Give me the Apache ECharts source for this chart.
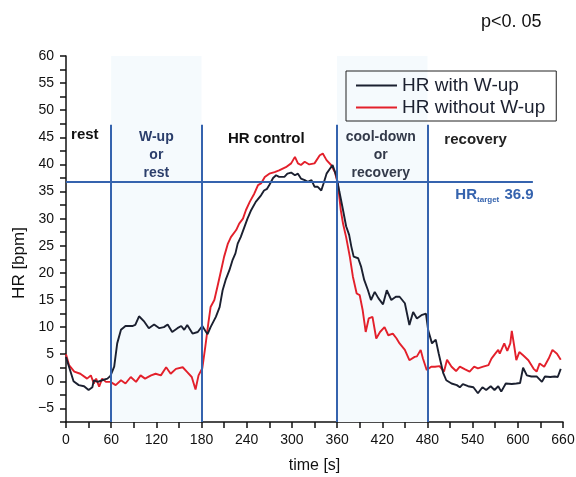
<!DOCTYPE html>
<html>
<head>
<meta charset="utf-8">
<title>HR with / without warm-up</title>
<script src="https://cdn.jsdelivr.net/npm/echarts@6/dist/echarts.min.js"></script>
<style>
  html, body { margin: 0; padding: 0; background: #fff; }
  #chart { width: 576px; height: 477px; }
</style>
</head>
<body>
<div id="chart"></div>
<script>
// heart rate traces, [time s, HR bpm]
const hrWithWup = [
  [0,4.5],[4,2.7],[10,0],[17,-0.7],[24,-0.9],[30,-1.6],[35,-1.1],[37,0.2],[42,-0.1],[48,0.2],
  [55,0.5],[59,1],[64,2.7],[68,7],[73,9.5],[79,10.2],[88,10.2],[92,10.4],[97,12],[104,11],
  [110,9.8],[117,10.5],[124,9.8],[130,10],[135,10.5],[141,9.1],[148,9.8],[153,10.2],[157,9.5],[161,10.4],
  [168,8.8],[175,9.1],[181,10.2],[186,9.1],[188,8.7],[192,10],[199,11.9],[204,13.7],[208,16.8],[212,18.7],
  [217,20.5],[221,22.3],[225,23.6],[228,25.4],[232,26.6],[237,28.5],[241,30],[246,31.6],[252,33.1],[259,34.3],
  [263,35.2],[267,35.5],[270,36.2],[275,37.5],[279,38],[283,37.7],[290,37.7],[294,38.3],[299,38.5],[304,38],
  [308,38.3],[312,37.4],[317,37.1],[321,36.8],[326,37.1],[330,35.9],[334,35.9],[339,35.2],[342,36.5],[346,38.3],
  [350,39.1],[354,39.9],[359,37.9],[363,35],[368,31.5],[372,28.6],[376,27],[379,24.8],[382,23],[388,22.7],
  [392,21.1],[396,18.7],[401,16.8],[405,15],[410,16.5],[415,15.3],[421,14.2],[426,16.8],[432,15],[438,15.6],
  [443,15.6],[450,14.4],[456,10.4],[461,12.8],[466,11.6],[472,12.2],[478,12.5],[481,9.4],[486,7],[491,7.7],
  [495,5.1],[501,1.5],[505,0.2],[512,-0.4],[519,-0.7],[523,-1.1],[527,-0.5],[534,-0.9],[541,-1.1],[547,-2.2],
  [553,-1.1],[558,-1.6],[564,-0.9],[569,-1.6],[574,-0.9],[578,-1.9],[584,-0.4],[592,-0.5],[598,-0.4],[603,-0.3],
  [607,2.5],[612,1.1],[618,0.9],[625,0.9],[632,-0.1],[636,0.9],[643,0.8],[649,0.9],[653,0.8],[657,2.3]
];
const hrWithoutWup = [
  [0,5],[4,3],[11,1.8],[19,1.4],[28,0.5],[33,1.1],[37,-0.4],[40,0.5],[44,-1],[48,0.5],
  [53,-0.1],[59,-0.1],[66,-0.7],[73,0.2],[79,-0.4],[86,0.8],[93,-0.1],[99,1.1],[105,0.5],[113,1.1],
  [119,1.4],[126,1.1],[133,2.6],[139,1.4],[146,2.3],[155,2.6],[161,1.7],[167,0.8],[172,-1.5],[176,1.1],
  [181,2.4],[185,6.4],[189,10.7],[192,13.7],[197,15],[201,17.4],[206,20.5],[210,23],[215,25.4],[219,26.6],
  [226,27.9],[230,29.1],[235,30],[239,31.6],[244,33.1],[250,34.6],[255,36.2],[259,36.5],[264,37.7],[270,38.3],
  [277,38.6],[283,38.9],[292,39.5],[299,40.2],[304,41.4],[308,40.2],[312,39.9],[317,40.5],[323,40],[330,40.2],
  [337,41.7],[341,42],[346,40.8],[352,39.9],[357,38.6],[361,36.5],[365,31.5],[368,29],[372,26.6],[377,22.9],
  [381,19.3],[386,16.2],[390,15.9],[394,13.1],[398,9.1],[402,11.6],[407,11.9],[412,7.9],[417,9.1],[423,10],
  [428,8.5],[434,8.8],[439,7.9],[443,7],[450,5.8],[456,3.9],[463,4.5],[466,4.6],[471,5.8],[474,4.2],
  [479,2.1],[485,2.7],[490,2.7],[496,2.8],[502,1.8],[506,4],[512,2.7],[518,1.9],[523,2.7],[530,2.2],
  [536,1.8],[542,2.7],[547,2.4],[554,2.7],[561,3],[565,4.2],[570,5.1],[574,5.8],[576,5.1],[582,7],
  [586,5.6],[590,7],[592,9.3],[595,6.7],[598,3.9],[602,5.4],[607,4.8],[614,3.9],[621,2.3],[625,1.8],
  [629,3.3],[635,2.7],[641,4.2],[646,5.8],[652,5.1],[657,4]
];

// phase boundaries (s) and target HR
const phaseBounds = [60, 180, 360, 480];
const hrTarget = 36.9;
const targetLineEnd = 620;
const shadedPhases = [[60, 180], [360, 480]];

const seriesNames = ['HR with W-up', 'HR without W-up'];

const blue = '#3563ae';
const navy = '#2b3e6b';
const font = 'Liberation Sans, Arial, sans-serif';

const chart = echarts.init(document.getElementById('chart'));

const option = {
  backgroundColor: '#fff',
  animation: false,
  textStyle: { fontFamily: font },
  grid: { left: 66, right: 13, top: 56, bottom: 55, outerBoundsMode: 'none' },
  legend: {
    data: seriesNames,
    orient: 'vertical',
    left: 346,
    top: 71,
    padding: [5, 11, 4, 10],
    icon: 'rect',
    itemWidth: 41,
    itemHeight: 2,
    itemGap: 3,
    borderColor: '#222',
    borderWidth: 1,
    borderRadius: 0,
    textStyle: { fontSize: 19, color: '#1c2130' }
  },
  xAxis: {
    type: 'value',
    min: 0,
    max: 660,
    interval: 30,
    name: 'time [s]',
    nameLocation: 'middle',
    nameGap: 36,
    nameTextStyle: { fontSize: 16, color: '#111' },
    axisLine: { onZero: false, lineStyle: { color: '#111', width: 1.5 } },
    axisTick: { inside: false, length: 6, lineStyle: { color: '#111', width: 1.5 } },
    axisLabel: {
      fontSize: 14, color: '#111', margin: 11,
      formatter: v => (v % 60 === 0 ? String(v) : '')
    },
    splitLine: { show: false }
  },
  yAxis: {
    type: 'value',
    min: -7.5,
    max: 60,
    interval: 2.5,
    axisLine: { show: true, onZero: false, lineStyle: { color: '#111', width: 1.5 } },
    axisTick: { show: true, inside: false, length: 6, lineStyle: { color: '#111', width: 1.5 } },
    axisLabel: {
      fontSize: 14, color: '#111', margin: 12,
      formatter: v => (v % 5 === 0 ? (v < 0 ? '\u2212' + Math.abs(v) : String(v)) : '')
    },
    splitLine: { show: false }
  },
  graphic: [
    {
      type: 'text', left: 481, top: 13,
      style: { text: 'p<0. 05', fontSize: 18, fill: '#111', fontFamily: font }
    },
    {
      type: 'text', x: 19, y: 263, rotation: Math.PI / 2,
      style: {
        text: 'HR [bpm]', fontSize: 17, fill: '#111',
        align: 'center', verticalAlign: 'middle', fontFamily: font
      }
    }
  ],
  series: [
    {
      name: 'phases',
      type: 'line',
      data: [],
      silent: true,
      z: 1,
      markArea: {
        silent: true,
        itemStyle: { color: '#f5fafd' },
        data: shadedPhases.map(p => [{ xAxis: p[0], yAxis: -7.5 }, { xAxis: p[1], yAxis: 60 }])
      },
      markLine: {
        silent: true,
        symbol: 'none',
        label: { show: false },
        lineStyle: { color: blue, width: 2, type: 'solid' },
        data: phaseBounds.map(t => [{ coord: [t, -7.5] }, { coord: [t, 47.3] }])
          .concat([[{ coord: [0, hrTarget] }, { coord: [targetLineEnd, hrTarget] }]])
      },
      markPoint: {
        silent: true,
        symbol: 'rect',
        symbolSize: 0,
        label: { show: true, position: 'inside', fontFamily: font },
        data: [
          { coord: [25, 45.4], label: { formatter: 'rest', fontSize: 15, fontWeight: 'bold', color: '#111' } },
          { coord: [120, 41.8], label: { formatter: 'W-up\nor\nrest', fontSize: 14, fontWeight: 'bold', color: navy, lineHeight: 18, align: 'center' } },
          { coord: [266, 44.8], label: { formatter: 'HR control', fontSize: 15, fontWeight: 'bold', color: '#111' } },
          { coord: [418, 41.7], label: { formatter: 'cool-down\nor\nrecovery', fontSize: 14, fontWeight: 'bold', color: '#333a4a', lineHeight: 18, align: 'center' } },
          { coord: [544, 44.6], label: { formatter: 'recovery', fontSize: 15, fontWeight: 'bold', color: '#222' } },
          {
            coord: [569, 34.3],
            label: {
              formatter: '{a|HR}{b|target}{a| 36.9}',
              rich: {
                a: { fontSize: 15, fontWeight: 'bold', color: blue },
                b: { fontSize: 8, fontWeight: 'bold', color: blue, verticalAlign: 'bottom', padding: [8, 1, 0, 0] }
              }
            }
          }
        ]
      }
    },
    {
      name: seriesNames[0],
      type: 'line',
      data: hrWithWup,
      symbol: 'none',
      showSymbol: false,
      z: 3,
      itemStyle: { color: '#1b2030' },
      lineStyle: { color: '#1b2030', width: 1.9 }
    },
    {
      name: seriesNames[1],
      type: 'line',
      data: hrWithoutWup,
      symbol: 'none',
      showSymbol: false,
      z: 2,
      itemStyle: { color: '#e3202b' },
      lineStyle: { color: '#e3202b', width: 1.9 }
    }
  ]
};

chart.setOption(option);
</script>
</body>
</html>
